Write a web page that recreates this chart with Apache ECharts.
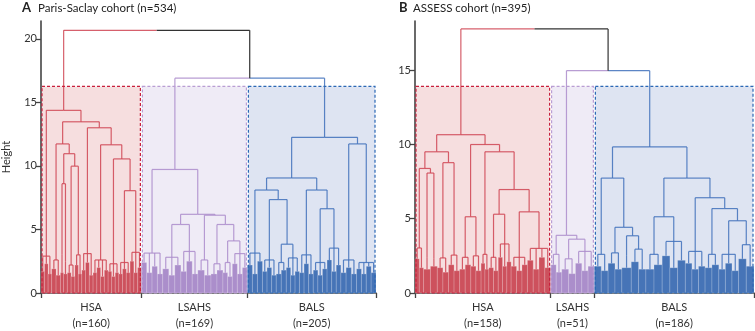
<!DOCTYPE html>
<html>
<head>
<meta charset="utf-8">
<script src="https://cdn.jsdelivr.net/npm/echarts@6/dist/echarts.min.js"></script>
<style>
  html, body { margin: 0; padding: 0; background: #fff; }
  #chart { width: 755px; height: 331px; }
</style>
</head>
<body>
<div id="chart"></div>
<script>
// cluster names, same order in both panels
var clusterNames = ['HSA', 'LSAHS', 'BALS'];

// ---- panel A : Paris-Saclay cohort ----
// each cluster = groups of leaves (n, top height, sub-block heights) + merges [a, b, height]
var hsaA_n = [17, 14, 5, 6, 12, 11, 18, 24, 17, 18, 18];
var hsaA_h = [2.9, 2.6, 3.0, 2.5, 2.2, 3.0, 3.1, 2.6, 2.3, 2.4, 3.2];
var hsaA_sub = [[1.7, 2.3, 1.5], [1.9, 1.4], [1.6], [1.5], [1.6, 1.3], [2.2, 1.5], [1.8, 2.4, 1.4], [1.6, 2.0, 1.3, 1.8], [1.7, 1.3, 1.6], [1.5, 1.9, 1.6], [2.5, 1.6, 2.0]];
var hsaA_links = [[2, 3, 8.6], [4, 5, 9.98], [11, 12, 10.96], [1, 13, 11.73], [9, 10, 8.05], [8, 15, 10.55], [7, 16, 11.66], [6, 17, 13.0], [14, 18, 13.47], [0, 19, 14.37]];

var lsahsA_n = [34, 29, 27, 21, 19, 15, 24];
var lsahsA_h = [3.14, 2.81, 3.27, 2.6, 2.3, 2.4, 3.1];
var lsahsA_sub = [[2.4, 1.6, 2.1, 1.5], [1.9, 1.4, 2.2], [1.7, 2.5, 1.5], [1.8, 1.4], [1.5, 1.8], [1.6, 1.3], [2.3, 1.5, 2.0]];
var lsahsA_links = [[1, 2, 5.39], [5, 6, 4.1], [4, 8, 5.39], [3, 9, 6.12], [7, 10, 6.19], [0, 11, 9.72]];

var balsA_n = [24, 22, 16, 21, 22, 22, 22, 25, 31];
var balsA_h = [3.14, 2.6, 2.4, 2.76, 3.0, 2.4, 3.53, 2.6, 2.4];
var balsA_sub = [[2.2, 1.5, 2.5], [1.7, 2.0, 1.4], [1.5, 1.8], [2.0, 1.4, 1.7], [1.6, 2.3, 1.5], [1.8, 1.4, 1.9], [2.6, 1.7, 2.2], [1.6, 2.0, 1.5], [1.9, 1.5, 2.1, 1.6]];
var balsA_links = [[2, 3, 3.84], [1, 9, 7.35], [0, 10, 8.1], [5, 6, 6.63], [4, 12, 8.1], [11, 13, 9.05], [7, 8, 11.73], [14, 15, 12.25]];

var topA_links = [[1, 2, 16.9], [0, 3, 20.67]];
var boxTopA = 16.25;

// ---- panel B : ASSESS cohort ----
var hsaB_n = [10, 8, 8, 13, 13, 13, 12, 9, 11, 15, 19, 27];
var hsaB_h = [3.03, 2.4, 2.3, 2.36, 2.55, 2.4, 2.5, 2.6, 2.4, 3.3, 2.4, 3.0];
var hsaB_sub = [[2.3, 1.7], [1.6], [1.8], [1.7, 1.4], [1.9, 1.5], [1.6, 1.9], [1.8, 1.5], [2.0, 1.6], [1.7, 1.5], [2.4, 1.8, 2.1], [1.8, 1.5, 1.9], [2.2, 1.6, 2.4, 1.7]];
var hsaB_links = [[1, 2, 8.07], [0, 12, 8.38], [3, 4, 8.77], [13, 14, 9.5], [5, 6, 5.13], [8, 9, 5.3], [10, 11, 5.46], [17, 18, 6.96], [7, 19, 9.5], [16, 20, 9.99], [15, 21, 10.65]];

var lsahsB_n = [13, 16, 22];
var lsahsB_h = [2.6, 2.3, 2.8];
var lsahsB_sub = [[1.9, 1.4], [1.6, 1.3], [2.0, 1.5, 1.8]];
var lsahsB_links = [[1, 2, 3.62], [0, 3, 3.88]];

var balsB_n = [16, 16, 11, 17, 19, 27, 23, 16, 23, 18];
var balsB_h = [2.6, 2.7, 2.5, 2.95, 2.6, 3.47, 2.8, 2.6, 2.6, 3.25];
var balsB_sub = [[1.8, 1.5], [2.0, 1.6], [1.7], [2.1, 1.6], [1.6, 1.9], [2.5, 1.7, 2.2], [2.0, 1.6, 1.8], [1.7, 1.9], [1.6, 2.0, 1.5], [2.3, 1.8]];
var balsB_links = [[2, 3, 3.85], [1, 10, 4.42], [0, 11, 7.73], [4, 5, 5.13], [8, 9, 4.86], [7, 14, 5.68], [6, 15, 6.41], [13, 16, 7.73], [12, 17, 9.83]];

var topB_links = [[1, 2, 14.96], [0, 3, 17.77]];
var boxTopB = 13.9;

// colours: HSA, LSAHS, BALS, (above clusters)
var lineColors = ['#cf4452', '#ab8ccb', '#3f70bb', '#333333'];
var blockColors = ['#c63847', '#9f7ec3', '#2c60ad'];
var boxFills = ['#f6dedf', '#efebf6', '#dee4f2'];
var boxBorders = ['#c8203c', '#b99dd3', '#2b68b5'];
var FONT = 'Lato';

function join(a, b, h, ci, segs) {
  var xm = (a.x + b.x) / 2;
  [a, b].forEach(function (c) {
    segs.push([c.x, c.h, c.x, h, c.ci]);
    segs.push([c.x, h, xm, h, c.ci]);
  });
  return { x: xm, h: h, ci: ci };
}

// turn the groups/merges into segments and blocks in leaf units
function layoutPanel(clusters, topLinks) {
  var segs = [], blocks = [], boxes = [], roots = [], sizes = [];
  var leaf = 0;
  clusters.forEach(function (c, ci) {
    var nodes = [];
    var start = leaf;
    c.n.forEach(function (cnt, gi) {
      var subs = c.sub[gi];
      var w = cnt / subs.length;
      var centers = [];
      subs.forEach(function (s, j) {
        var a = leaf + w * j, b = a + w;
        blocks.push([a, b, s, ci]);
        centers.push((a + b) / 2);
        segs.push([(a + b) / 2, s, (a + b) / 2, c.h[gi], ci]);
      });
      if (centers.length > 1) segs.push([centers[0], c.h[gi], centers[centers.length - 1], c.h[gi], ci]);
      nodes.push({ x: (centers[0] + centers[centers.length - 1]) / 2, h: c.h[gi], ci: ci });
      leaf += cnt;
    });
    c.links.forEach(function (l) {
      nodes.push(join(nodes[l[0]], nodes[l[1]], l[2], ci, segs));
    });
    roots.push(nodes[nodes.length - 1]);
    boxes.push([start, leaf, ci]);
    sizes.push(leaf - start);
  });
  topLinks.forEach(function (l) {
    roots.push(join(roots[l[0]], roots[l[1]], l[2], 3, segs));
  });
  return { segs: segs, blocks: blocks, boxes: boxes, sizes: sizes, total: leaf };
}

var panelA = layoutPanel([
  { n: hsaA_n, h: hsaA_h, sub: hsaA_sub, links: hsaA_links },
  { n: lsahsA_n, h: lsahsA_h, sub: lsahsA_sub, links: lsahsA_links },
  { n: balsA_n, h: balsA_h, sub: balsA_sub, links: balsA_links }
], topA_links);

var panelB = layoutPanel([
  { n: hsaB_n, h: hsaB_h, sub: hsaB_sub, links: hsaB_links },
  { n: lsahsB_n, h: lsahsB_h, sub: lsahsB_sub, links: lsahsB_links },
  { n: balsB_n, h: balsB_h, sub: balsB_sub, links: balsB_links }
], topB_links);

function panelSeries(p, idx, boxTop) {
  var boxData = p.boxes.map(function (b) { return [b[0], b[1], boxTop, b[2]]; });
  function boxRect(api) {
    var p0 = api.coord([api.value(0), api.value(2)]);
    var p1 = api.coord([api.value(1), 0]);
    return { x: p0[0] + 1, y: p0[1], width: p1[0] - p0[0] - 2, height: p1[1] - p0[1] };
  }
  return [
    {
      type: 'custom', xAxisIndex: idx, yAxisIndex: idx, z: 1, silent: true,
      data: boxData, encode: { x: [0, 1], y: 2 },
      renderItem: function (params, api) {
        return { type: 'rect', shape: boxRect(api), style: { fill: boxFills[api.value(3)] } };
      }
    },
    {
      type: 'custom', xAxisIndex: idx, yAxisIndex: idx, z: 2, silent: true,
      data: p.blocks, encode: { x: [0, 1], y: 2 },
      renderItem: function (params, api) {
        var p0 = api.coord([api.value(0), api.value(2)]);
        var p1 = api.coord([api.value(1), 0]);
        return {
          type: 'rect',
          shape: { x: p0[0], y: p0[1], width: p1[0] - p0[0], height: p1[1] - p0[1] },
          style: { fill: blockColors[api.value(3)], opacity: 0.85, stroke: 'rgba(255,255,255,0.35)', lineWidth: 0.6 }
        };
      }
    },
    {
      type: 'custom', xAxisIndex: idx, yAxisIndex: idx, z: 3, silent: true,
      data: p.segs, encode: { x: [0, 2], y: [1, 3] },
      renderItem: function (params, api) {
        var a = api.coord([api.value(0), api.value(1)]);
        var b = api.coord([api.value(2), api.value(3)]);
        var ci = api.value(4);
        return {
          type: 'line',
          shape: { x1: a[0], y1: a[1], x2: b[0], y2: b[1] },
          style: { stroke: lineColors[ci], lineWidth: 1.2, opacity: ci === 3 ? 1 : 0.85 }
        };
      }
    },
    {
      type: 'custom', xAxisIndex: idx, yAxisIndex: idx, z: 4, silent: true,
      data: boxData, encode: { x: [0, 1], y: 2 },
      renderItem: function (params, api) {
        return {
          type: 'rect', shape: boxRect(api),
          style: { fill: 'none', stroke: boxBorders[api.value(3)], lineWidth: 1.2, lineDash: [3, 2] }
        };
      }
    }
  ];
}

function xAxisFor(idx, p) {
  var ticks = [0], mids = [], acc = 0;
  p.sizes.forEach(function (n) { mids.push(acc + n / 2); acc += n; ticks.push(acc); });
  return {
    gridIndex: idx, type: 'value', min: 0, max: p.total,
    splitLine: { show: false },
    axisLine: { lineStyle: { color: '#444', width: 1.6 } },
    axisTick: { customValues: ticks, length: 5, lineStyle: { color: '#444', width: 1.3 } },
    axisLabel: {
      customValues: mids, margin: 6, color: '#333', fontSize: 11, fontFamily: FONT, lineHeight: 16,
      formatter: function (v) {
        var best = 0;
        mids.forEach(function (m, i) { if (Math.abs(m - v) < Math.abs(mids[best] - v)) best = i; });
        return clusterNames[best] + '\n(n=' + p.sizes[best] + ')';
      }
    }
  };
}

function yAxisFor(idx, max, ticks, name) {
  return {
    gridIndex: idx, type: 'value', min: 0, max: max,
    splitLine: { show: false },
    axisLine: { show: true, lineStyle: { color: '#444', width: 1.6 } },
    axisTick: { show: true, customValues: ticks, length: 5, lineStyle: { color: '#444', width: 1.3 } },
    axisLabel: { customValues: ticks, margin: 4, color: '#333', fontSize: 11, fontFamily: FONT },
    name: name, nameLocation: 'middle', nameGap: 29,
    nameTextStyle: { color: '#333', fontSize: 11, fontFamily: FONT }
  };
}

var chart = echarts.init(document.getElementById('chart'), null, { renderer: 'canvas' });

var option = {
  animation: false,
  graphic: [
    { type: 'text', left: 22, top: 1, style: { text: 'A', font: 'bold 13px ' + FONT, fill: '#222' } },
    { type: 'text', left: 38, top: 2, style: { text: 'Paris-Saclay cohort (n=534)', font: '11.5px ' + FONT, fill: '#222' } },
    { type: 'text', left: 399, top: 1, style: { text: 'B', font: 'bold 13px ' + FONT, fill: '#222' } },
    { type: 'text', left: 413, top: 2, style: { text: 'ASSESS cohort (n=395)', font: '11.5px ' + FONT, fill: '#222' } }
  ],
  grid: [
    { left: 40, top: 21, width: 336, height: 276 },
    { left: 415, top: 21, width: 339, height: 276 }
  ],
  xAxis: [xAxisFor(0, panelA), xAxisFor(1, panelB)],
  yAxis: [
    yAxisFor(0, 21.4, [0, 5, 10, 15, 20], 'Height'),
    yAxisFor(1, 18.3, [0, 5, 10, 15], '')
  ],
  series: panelSeries(panelA, 0, boxTopA).concat(panelSeries(panelB, 1, boxTopB))
};

chart.setOption(option);
</script>
</body>
</html>
